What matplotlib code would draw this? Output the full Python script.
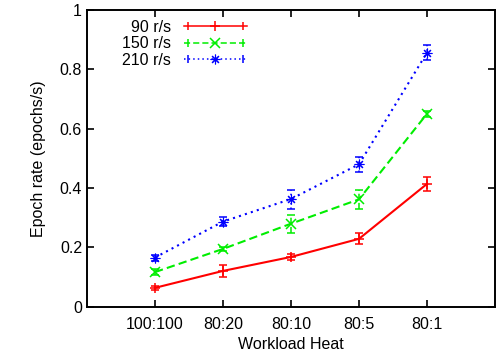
import matplotlib
matplotlib.use("Agg")
import matplotlib.pyplot as plt
from matplotlib.lines import Line2D
from matplotlib.legend_handler import HandlerLine2D, HandlerTuple

plt.rcParams['font.family'] = ['Liberation Sans', 'DejaVu Sans']

categories = ["100:100", "80:20", "80:10", "80:5", "80:1"]
series_names = ["90 r/s", "150 r/s", "210 r/s"]

rate_90 = [0.064, 0.121, 0.168, 0.229, 0.414]
err_90 = [0.007, 0.019, 0.010, 0.018, 0.024]
rate_150 = [0.117, 0.195, 0.280, 0.362, 0.650]
err_150 = [0.010, 0.007, 0.030, 0.032, 0.010]
rate_210 = [0.166, 0.287, 0.363, 0.480, 0.856]
err_210 = [0.010, 0.015, 0.032, 0.026, 0.026]

colors = ['#ff0000', '#00ee00', '#0000ff']
styles = ['-', (0, (4, 2)), (0, (1, 2))]
markers = ['+', 'x', (8, 2, 0)]
edge_w = [1.1, 1.1, 0.8]

fig = plt.figure(figsize=(4.97, 3.64), dpi=100)
ax = fig.add_axes([0.175, 0.157, 0.821, 0.816])

xs = list(range(1, len(categories) + 1))
handles = []
hmap = {}
for vals, errs, c, ls, m, ew, name in zip([rate_90, rate_150, rate_210],
                                           [err_90, err_150, err_210],
                                           colors, styles, markers, edge_w, series_names):
    ax.plot(xs, vals, color=c, linestyle=ls, linewidth=1.5, marker=m, markersize=7,
            markeredgewidth=ew)
    eb = ax.errorbar(xs, vals, yerr=errs, fmt='none', ecolor=c, elinewidth=1.1, capsize=2.6,
                     capthick=1.1)
    for col in eb[2]:
        col.set_linestyle(ls)
    # legend sample: horizontal line with end caps, marker in middle
    mid = Line2D([], [], color=c, linestyle=ls, linewidth=1.1, marker=m, markersize=7,
                 markeredgewidth=ew)
    caps = Line2D([], [], color=c, linestyle='none', marker='|', markersize=6,
                  markeredgewidth=1.1)
    hmap[mid] = HandlerLine2D(numpoints=1)
    hmap[caps] = HandlerLine2D(numpoints=2)
    handles.append(((mid, caps), name))

ax.set_xlim(0, 6)
ax.set_ylim(0, 1)
ax.set_xticks(xs)
ax.set_xticklabels(categories)
ax.set_yticks([0, 0.2, 0.4, 0.6, 0.8, 1])
ax.set_yticklabels(['0', '0.2', '0.4', '0.6', '0.8', '1'])
ax.tick_params(direction='in', top=True, right=True, length=5, width=1.2, labelsize=11.5)
ax.tick_params(axis='x', pad=7)
for s in ax.spines.values():
    s.set_linewidth(1.4)

ax.set_xlabel('Workload Heat', fontsize=11.5, labelpad=4)
ax.set_ylabel('Epoch rate (epochs/s)', fontsize=11.5, labelpad=10)

leg = ax.legend([h for h, _ in handles], [n for _, n in handles],
                handler_map={tuple: HandlerTuple(ndivide=1, pad=0), **hmap},
                loc='upper left', bbox_to_anchor=(0.05, 1.015), frameon=False,
                markerfirst=False, fontsize=11.5, handlelength=4.0, handletextpad=0.8,
                labelspacing=0.1, borderaxespad=0.5)

fig.savefig('out.png', dpi=100)
